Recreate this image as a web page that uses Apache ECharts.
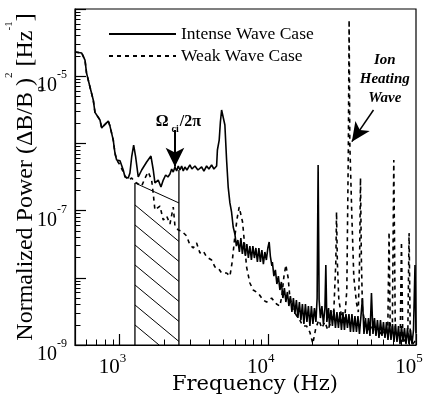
<!DOCTYPE html>
<html><head><meta charset="utf-8">
<script src="https://cdn.jsdelivr.net/npm/echarts@6/dist/echarts.min.js"></script>
<style>html,body{margin:0;padding:0;background:#fff}#c{width:424px;height:403px}</style>
</head><body><div id="c"></div>
<script>
// [frequency Hz, normalized power Hz^-1]
const intenseWave = [
 [500,2.29e-5],[555,2.21e-5],[584,1.74e-5],[598,1.12e-5],[631,6.9e-6],[664,4.43e-6],[682,2.9e-6],
 [737,2.23e-6],[757,1.69e-6],[776,1.81e-6],[797,1.75e-6],[839,2.15e-6],[861,1.81e-6],[906,1.12e-6],
 [930,7.2e-7],[955,5.66e-7],[975,6.05e-7],[1006,5.5e-7],[1058,4.02e-7],[1087,3.16e-7],[1144,3.05e-7],
 [1174,3.63e-7],[1206,6.28e-7],[1244,9.46e-7],[1283,6.28e-7],[1336,3.16e-7],[1409,4.02e-7],[1522,5.28e-7],
 [1627,6.49e-7],[1687,4.02e-7],[1731,2.58e-7],[1822,2.85e-7],[1901,2.24e-7],[1970,2.85e-7],[2045,3.39e-7],
 [2118,3.16e-7],[2186,3.51e-7],[2245,4.16e-7],[2301,3.75e-7],[2363,4.46e-7],[2425,3.88e-7],[2487,4.61e-7],
 [2553,4.02e-7],[2621,4.61e-7],[2688,3.88e-7],[2759,4.46e-7],[2846,4.02e-7],[2981,4.78e-7],[3075,4.16e-7],
 [3223,4.61e-7],[3376,4.02e-7],[3576,4.46e-7],[3705,3.88e-7],[3864,4.61e-7],[4005,4.16e-7],[4176,4.78e-7],
 [4328,4.16e-7],[4514,4.61e-7],[4570,7.98e-7],[4699,1.12e-6],[4787,2.08e-6],[4878,3.14e-6],[5000,3.25e-6],
 [5133,1.88e-6],[5271,5.66e-7],[5404,2.24e-7],[5550,1.3e-7],[5696,9.46e-8],[5841,5.7e-8],
 [5995,4.49e-8],[6137,2.97e-8],[6280,3.65e-8],[6430,2.42e-8],[6580,3.91e-8],[6735,2.26e-8],[6895,3.41e-8],
 [7058,2.11e-8],[7225,3.18e-8],[7395,1.97e-8],[7570,2.97e-8],[7749,1.84e-8],[7930,2.97e-8],[8120,1.97e-8],
 [8310,2.78e-8],[8505,1.72e-8],[8705,2.78e-8],[8910,1.72e-8],[9120,2.59e-8],[9335,1.6e-8],[9555,2.42e-8],
 [9780,1.84e-8],[10010,2.78e-8],[10215,3.41e-8],[10400,2.11e-8],[10650,1.5e-8],[10735,1.72e-8],
 [10989,1.06e-8],[11248,1.31e-8],[11514,8.08e-9],[11786,1.06e-8],[12064,6.58e-9],[12349,8.66e-9],
 [12640,5.0e-9],[12939,7.05e-9],[13244,4.36e-9],[13557,6.15e-9],[13877,3.8e-9],[14205,5.36e-9],
 [14540,3.1e-9],[14883,5.0e-9],[15234,2.89e-9],[15594,4.67e-9],[15962,2.52e-9],[16339,4.36e-9],
 [16724,2.35e-9],[17119,4.07e-9],[17523,2.05e-9],[17937,4.07e-9],[18360,2.2e-9],[18793,3.8e-9],
 [19237,1.92e-9],[19691,3.8e-9],[20156,2.05e-9],[20632,3.55e-9],[21119,2.2e-9],[21520,5.0e-9],
 [21855,4.78e-7],[22195,4.67e-9],[22650,2.52e-9],[23184,3.8e-9],[23731,2.05e-9],[24291,3.55e-9],
 [24635,1.55e-8],[25025,2.2e-9],[25700,3.55e-9],[26052,1.92e-9],[26667,3.32e-9],[27297,1.92e-9],
 [27941,3.32e-9],[28600,1.79e-9],[29275,3.1e-9],[29966,1.79e-9],[30673,3.1e-9],[31397,1.67e-9],
 [32138,3.1e-9],[32897,1.67e-9],[33673,2.89e-9],[34468,1.79e-9],[35281,2.89e-9],[36114,1.56e-9],
 [36966,2.89e-9],[37838,1.56e-9],[38731,2.7e-9],[39645,1.56e-9],[40581,2.7e-9],[41539,1.46e-9],
 [42519,2.7e-9],[43522,5.0e-9],[44550,1.46e-9],[45601,2.52e-9],[46677,1.46e-9],[47779,2.52e-9],
 [48906,1.36e-9],[50060,5.94e-9],[51242,1.46e-9],[52451,2.52e-9],[53689,1.36e-9],[54956,2.35e-9],
 [56253,1.27e-9],[57581,2.35e-9],[58940,1.36e-9],[60331,2.2e-9],[61755,1.27e-9],[63212,2.2e-9],
 [64704,1.19e-9],[66231,2.2e-9],[67794,1.19e-9],[69394,2.05e-9],[71032,1.11e-9],[72708,2.05e-9],
 [74424,1.11e-9],[76180,1.92e-9],[77978,1.03e-9],[79818,1.92e-9],[81702,1.11e-9],[83630,1.79e-9],
 [85604,1.03e-9],[87624,1.79e-9],[89692,1.03e-9],[91809,1.67e-9],[93975,1.03e-9],[96193,1.67e-9],
 [98463,1.55e-8],[100000,1.5e-9]
];
const weakWave = [
 [500,2.29e-5],[555,2.21e-5],[584,1.74e-5],[598,1.12e-5],[631,6.9e-6],[664,4.43e-6],[682,2.9e-6],
 [737,2.23e-6],[757,1.69e-6],[776,1.81e-6],[797,1.75e-6],[839,2.15e-6],[861,1.81e-6],[906,1.12e-6],
 [930,7.2e-7],[955,5.66e-7],[975,6.05e-7],[1006,4.78e-7],[1058,3.75e-7],[1087,3.27e-7],[1144,2.85e-7],
 [1206,3.05e-7],[1269,2.67e-7],[1336,2.49e-7],[1409,2.32e-7],[1483,3.05e-7],[1560,3.75e-7],[1645,2.85e-7],
 [1687,1.77e-7],[1731,1.02e-7],[1778,9.53e-8],[1871,1.17e-7],[1970,7.24e-8],[2077,8.32e-8],[2186,6.32e-8],
 [2301,1.13e-7],[2363,5.9e-8],[2487,5.14e-8],[2621,4.97e-8],[2832,4.19e-8],[2981,3.08e-8],[3139,2.78e-8],
 [3308,3.3e-8],[3483,2.34e-8],[3667,2.5e-8],[3864,2.04e-8],[4176,1.84e-8],[4395,1.45e-8],[4627,1.4e-8],
 [4878,1.18e-8],[5271,1.18e-8],[5550,1.06e-8],[5750,1.72e-8],[5995,4.19e-8],[6215,7.76e-8],[6410,1.13e-7],
 [6550,1.21e-7],[6755,6.77e-8],[6930,3.65e-8],[7190,1.45e-8],[7570,8.37e-9],[7969,6.58e-9],[8610,5.94e-9],
 [9305,4.67e-9],[9810,4.36e-9],[10605,5.0e-9],[11455,4.07e-9],[12060,3.8e-9],[12440,5.36e-9],[12835,1.03e-8],
 [13240,1.55e-8],[13720,9.93e-9],[14085,5.18e-9],[14825,3.32e-9],[15700,2.7e-9],[16445,2.35e-9],
 [17230,1.92e-9],[18255,1.92e-9],[19210,1.56e-9],[20130,1.05e-9],[21090,1.79e-9],[22100,2.35e-9],
 [23150,1.79e-9],[24260,2.2e-9],[25410,1.67e-9],[26630,2.2e-9],[27900,3.32e-9],[28770,1.72e-8],
 [29090,9.53e-8],[29455,1.72e-8],[30150,4.67e-9],[31100,3.1e-9],[32080,2.05e-9],[33085,2.52e-9],
 [34135,6.58e-9],[34945,7.98e-7],[35375,6.85e-5],[35755,1.01e-6],[36890,8.6e-8],[38045,1.03e-8],
 [39675,4.22e-9],[40800,3.1e-9],[41625,1.84e-8],[42210,3.05e-7],[42805,1.84e-8],[43550,3.32e-9],
 [45130,2.2e-9],[47280,1.67e-9],[49540,1.99e-9],[51900,1.56e-9],[54370,1.79e-9],[56950,1.46e-9],
 [59700,1.67e-9],[62550,1.36e-9],[64510,1.67e-9],[65800,4.8e-8],[67050,1.56e-9],[69200,1.46e-9],
 [70810,5.66e-7],[72500,1.56e-9],[75350,1.27e-9],[78300,1.36e-9],[79800,3.41e-8],[81430,1.27e-9],
 [85310,1.11e-9],[88000,1.36e-9],[89800,4.65e-8],[91500,1.27e-9],[95100,1.03e-9],[100000,1.19e-9]
];
const seriesNames = ['Intense Wave Case', 'Weak Wave Case'];
const xLabelValues = [1e3, 1e4, 1e5];
const xMajorTicks = [1e3, 1e4, 1e5];
const xMinorTicks = [500,600,700,800,900,2000,3000,4000,5000,6000,7000,8000,9000,
  20000,30000,40000,50000,60000,70000,80000,90000];
const yLabelValues = [1e-9, 1e-7, 1e-5];
const yMajorTicks = [1e-9, 1e-8, 1e-7, 1e-6, 1e-5, 1e-4];
const yMinorTicks = [2e-9,3e-9,4e-9,5e-9,6e-9,7e-9,8e-9,9e-9,2e-8,3e-8,4e-8,5e-8,6e-8,7e-8,8e-8,9e-8,
  2e-7,3e-7,4e-7,5e-7,6e-7,7e-7,8e-7,9e-7,2e-6,3e-6,4e-6,5e-6,6e-6,7e-6,8e-6,9e-6,
  2e-5,3e-5,4e-5,5e-5,6e-5,7e-5,8e-5,9e-5];
// hatched band: [left freq, top power left, right freq, top power right, right edge top power]
const hatchBand = [[1269, 2.58e-7, 2513, 1.30e-7, 4.02e-7]];

const serif = 'Liberation Serif';
const chart = echarts.init(document.getElementById('c'), null, {renderer: 'canvas'});
const xBase = {type: 'log', logBase: 10, min: 500, max: 100000, splitLine: {show: false}, minorTick: {show: false}, nameMoveOverlap: false};
const yBase = {type: 'log', logBase: 10, min: 1e-9, max: 1e-4, splitLine: {show: false}, minorTick: {show: false}, nameMoveOverlap: false};
const option = {
  animation: false,
  backgroundColor: '#fff',
  grid: {left: 75, right: 8, top: 9, bottom: 58, show: true, borderColor: '#000', borderWidth: 1.2,
    containLabel: false, outerBoundsMode: 'none'},
  legend: {
    data: seriesNames, orient: 'vertical', left: 103, top: 19, itemWidth: 67, itemHeight: 14, itemGap: 2,
    selectedMode: false, itemStyle: {opacity: 0},
    textStyle: {fontFamily: serif, fontSize: 17.5, color: '#000', lineHeight: 20}
  },
  xAxis: [
    Object.assign({}, xBase, {
      position: 'bottom',
      axisLine: {show: true, lineStyle: {color: '#000', width: 1.2}},
      axisTick: {show: true, inside: true, length: 11, customValues: xMajorTicks, lineStyle: {color: '#000', width: 1.2}},
      axisLabel: {
        show: true, customValues: xLabelValues, margin: 7, color: '#000',
        formatter: v => '{b|10}{s|' + Math.round(Math.log10(v)) + '}{sp| }',
        rich: {
          b: {fontFamily: serif, fontSize: 21, lineHeight: 26, verticalAlign: 'bottom', color: '#000'},
          s: {fontFamily: serif, fontSize: 13, lineHeight: 13, verticalAlign: 'top', color: '#000'},
          sp: {width: 14, fontSize: 13}
        }
      },
      name: 'Frequency (Hz)', nameLocation: 'middle', nameGap: 29,
      nameTextStyle: {fontFamily: 'DejaVu Serif', fontSize: 21, color: '#000', padding: [0, 0, 0, 19]}
    }),
    Object.assign({}, xBase, {
      position: 'bottom',
      axisLine: {show: false},
      axisTick: {show: true, inside: true, length: 5.5, customValues: xMinorTicks, lineStyle: {color: '#000', width: 1}},
      axisLabel: {show: false}
    })
  ],
  yAxis: [
    Object.assign({}, yBase, {
      position: 'left',
      axisLine: {show: true, lineStyle: {color: '#000', width: 1.2}},
      axisTick: {show: true, inside: true, length: 11, customValues: yMajorTicks, lineStyle: {color: '#000', width: 1.2}},
      axisLabel: {
        show: true, customValues: yLabelValues, margin: 8, padding: [13, 0, 0, 0], color: '#000',
        formatter: v => '{b|10}{s|' + Math.round(Math.log10(v)) + '}',
        rich: {
          b: {fontFamily: serif, fontSize: 20, lineHeight: 27, verticalAlign: 'bottom', color: '#000'},
          s: {fontFamily: serif, fontSize: 12, lineHeight: 12, verticalAlign: 'top', color: '#000'}
        }
      },
      name: '{m|Normalized Power (ΔB/B}{sb|o}{m|)}{sp|2}{m| [Hz}{sp|-1}{m|]}',
      nameLocation: 'middle', nameRotate: 90, nameGap: 28,
      nameTextStyle: {
        color: '#000',
        rich: {
          m: {fontFamily: serif, fontSize: 24, lineHeight: 43, verticalAlign: 'middle', color: '#000'},
          sp: {fontFamily: serif, fontSize: 11, lineHeight: 11, verticalAlign: 'top', color: '#000'},
          sb: {fontFamily: serif, fontSize: 12, lineHeight: 12, verticalAlign: 'bottom', color: '#000'}
        }
      }
    }),
    Object.assign({}, yBase, {
      position: 'left',
      axisLine: {show: false},
      axisTick: {show: true, inside: true, length: 5.5, customValues: yMinorTicks, lineStyle: {color: '#000', width: 1}},
      axisLabel: {show: false}
    })
  ],
  series: [
    {
      type: 'custom', name: 'hatch', xAxisIndex: 0, yAxisIndex: 0, silent: true, z: 1,
      data: hatchBand, encode: {x: [0, 2], y: [1, 3]},
      renderItem: (params, api) => {
        const xl = api.value(0), xr = api.value(2);
        const tl = api.coord([xl, api.value(1)]);
        const tr = api.coord([xr, api.value(3)]);
        const bl = api.coord([xl, 1e-9]);
        const rt = api.coord([xr, api.value(4)]);
        const L = tl[0], R = tr[0], yB = bl[1];
        const t = (tr[1] - tl[1]) / (R - L);
        const s = 0.83, gap = 20;
        const st = {stroke: '#000', lineWidth: 1};
        const kids = [
          {type: 'line', shape: {x1: L, y1: tl[1], x2: L, y2: yB}, style: {stroke: '#000', lineWidth: 1.3}},
          {type: 'line', shape: {x1: R, y1: rt[1], x2: R, y2: yB}, style: {stroke: '#000', lineWidth: 1.3}},
          {type: 'line', shape: {x1: L, y1: tl[1], x2: R, y2: tr[1]}, style: st}
        ];
        for (let c = tl[1] + 22; c < yB; c += gap) {
          let x0 = L;
          if (c < tl[1]) x0 = Math.max(L, L + (tl[1] - c) / (s - t));
          const x1 = Math.min(R, L + (yB - c) / s);
          if (x1 > x0) kids.push({type: 'line', shape: {x1: x0, y1: c + s * (x0 - L), x2: x1, y2: c + s * (x1 - L)}, style: st});
        }
        return {type: 'group', children: kids};
      }
    },
    {
      type: 'line', name: seriesNames[0], data: intenseWave, symbol: 'none', z: 3,
      lineStyle: {color: '#000', width: 1.6, type: 'solid'}, itemStyle: {color: '#000'},
      emphasis: {disabled: true},
      markLine: {
        silent: true, animation: false, symbol: ['none', 'arrow'],
        label: {show: false},
        data: [
          [{coord: [2363, 1.58e-6], symbol: 'none'}, {coord: [2363, 4.5e-7], symbol: 'arrow', symbolSize: [14, 19], lineStyle: {color: '#000', width: 2, type: 'solid'}}],
          [{coord: [51650, 3.14e-6], symbol: 'none'}, {coord: [36900, 1.06e-6], symbol: 'arrow', symbolSize: [13, 19], lineStyle: {color: '#000', width: 1.5, type: 'solid'}}]
        ],
        lineStyle: {color: '#000', width: 1.6, type: 'solid'}
      },
      markPoint: {
        silent: true, animation: false, symbol: 'rect', symbolSize: 1, itemStyle: {color: 'rgba(0,0,0,0)'},
        data: [
          {coord: [2494, 2.08e-6], label: {show: true, position: 'inside', formatter: '{o|Ω}{c|ci}{o|/2π}',
            rich: {
              o: {fontFamily: serif, fontSize: 16, fontWeight: 'bold', lineHeight: 16, verticalAlign: 'top', color: '#000'},
              c: {fontFamily: serif, fontSize: 10, fontWeight: 'bold', lineHeight: 11, padding: [15, 1, 0, 3], color: '#000'}
            }}},
          {coord: [61550, 9.08e-6], label: {show: true, position: 'inside', formatter: 'Ion\nHeating\nWave',
            fontFamily: serif, fontStyle: 'italic', fontWeight: 'bold', fontSize: 15, lineHeight: 19, color: '#000', align: 'center'}}
        ]
      }
    },
    {
      type: 'line', name: seriesNames[1], data: weakWave, symbol: 'none', z: 2,
      lineStyle: {color: '#000', width: 1.6, type: [4, 4]}, itemStyle: {color: '#000'},
      emphasis: {disabled: true}
    }
  ]
};
chart.setOption(option);
</script>
</body></html>
